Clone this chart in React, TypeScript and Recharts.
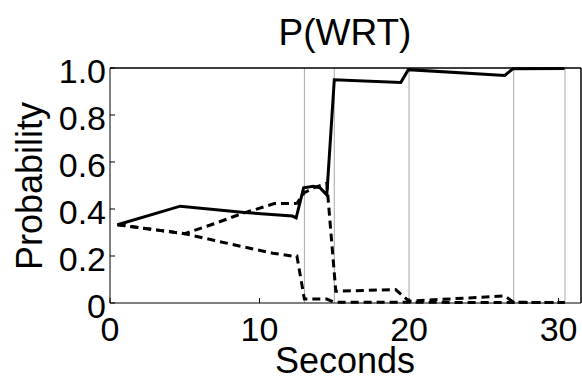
import { LineChart, Line, XAxis, YAxis, ReferenceLine } from 'recharts';

const FONT = '"Liberation Sans", Arial, Helvetica, sans-serif';

// solid line: P(WRT)
const solidT = [0.5, 4.7, 9.0, 12.2, 12.45, 12.95, 13.6, 14.05, 14.5, 15.0, 19.45, 19.95, 26.4, 26.95, 30.4];
const solidP = [0.333, 0.412, 0.385, 0.37, 0.362, 0.49, 0.497, 0.49, 0.46, 0.95, 0.938, 0.993, 0.968, 0.997, 0.998];

// dashed line that climbs to ~0.5 before collapsing
const dashAT = [0.5, 5.0, 7.0, 8.8, 11.0, 12.5, 13.0, 13.7, 14.5, 15.1, 19.1, 20.0, 26.4, 27.0, 30.4];
const dashAP = [0.333, 0.295, 0.338, 0.38, 0.423, 0.424, 0.47, 0.492, 0.51, 0.05, 0.057, 0.008, 0.03, 0.003, 0.002];

// dashed line that sinks to ~0.2 and drops at 13 s
const dashBT = [0.5, 5.0, 7.0, 9.0, 10.9, 12.2, 12.5, 13.0, 14.5, 15.0, 20.0, 27.0, 30.4];
const dashBP = [0.333, 0.295, 0.266, 0.238, 0.212, 0.199, 0.2, 0.017, 0.017, 0.003, 0.003, 0.002, 0.002];

const markers = [13, 15, 20, 27, 30.43];
const xTicks = [0, 10, 20, 30];
const yTicks = [0, 0.2, 0.4, 0.6, 0.8, 1.0];
const xMax = 31.5;

const toRows = (t: number[], p: number[]) => t.map((x, i) => ({ t: x, p: p[i] }));

const fmtY = (v: number) => (v === 0 ? '0' : v.toFixed(1));

// tick labels placed by hand so the inward tick marks don't push them around
const XTick = (props: any) => (
    <text x={props.x} y={341} textAnchor="middle" fontSize={34} fontFamily={FONT} fill="#000">
        {props.payload.value}
    </text>
);

const YTick = (props: any) => (
    <text x={106} y={props.y + 14.5} textAnchor="end" fontSize={34} fontFamily={FONT} fill="#000">
        {fmtY(props.payload.value)}
    </text>
);

export default function App() {
    return (
        <div style={{ position: 'absolute', left: 0, top: 0, width: 582, height: 377, background: '#fff' }}>
            <svg width={582} height={60} style={{ position: 'absolute', left: 0, top: 0 }}>
                <text x={345} y={44.5} textAnchor="middle" fontSize={37} fontFamily={FONT} fill="#000">
                    P(WRT)
                </text>
            </svg>
            <LineChart width={582} height={377} margin={{ top: 67, right: 0, bottom: 0, left: 0 }}>
                <XAxis
                    dataKey="t"
                    type="number"
                    domain={[0, xMax]}
                    ticks={xTicks}
                    allowDataOverflow
                    height={74}
                    stroke="#000"
                    tickSize={-5}
                    tick={XTick}
                    label={{
                        content: () => (
                            <text x={345} y={372.5} textAnchor="middle" fontSize={36} fontFamily={FONT} fill="#000">
                                Seconds
                            </text>
                        ),
                    }}
                />
                <XAxis
                    xAxisId="top"
                    orientation="top"
                    dataKey="t"
                    type="number"
                    domain={[0, xMax]}
                    ticks={xTicks}
                    allowDataOverflow
                    height={1}
                    stroke="#000"
                    tickSize={-5}
                    tick={false}
                />
                <YAxis
                    type="number"
                    domain={[0, 1]}
                    ticks={yTicks}
                    width={110}
                    stroke="#000"
                    tickSize={-5}
                    tick={YTick}
                    label={{
                        content: () => (
                            <text
                                x={41.5}
                                y={186}
                                transform="rotate(-90 41.5 186)"
                                textAnchor="middle"
                                fontSize={36}
                                fontFamily={FONT}
                                fill="#000"
                            >
                                Probability
                            </text>
                        ),
                    }}
                />
                <YAxis
                    yAxisId="right"
                    orientation="right"
                    type="number"
                    domain={[0, 1]}
                    ticks={yTicks}
                    width={1}
                    stroke="#000"
                    tickSize={-5}
                    tick={false}
                />
                {markers.map(m => (
                    <ReferenceLine key={m} x={m} stroke="#a8a8a8" strokeWidth={1} />
                ))}
                {/* box edges, in case the mirrored axes leave them out */}
                <ReferenceLine y={1} stroke="#000" strokeWidth={1} />
                <ReferenceLine x={xMax} stroke="#000" strokeWidth={1} />
                <Line
                    data={toRows(dashBT, dashBP)}
                    dataKey="p"
                    type="linear"
                    stroke="#000"
                    strokeWidth={3}
                    strokeDasharray="8 5"
                    dot={false}
                    isAnimationActive={false}
                />
                <Line
                    data={toRows(dashAT, dashAP)}
                    dataKey="p"
                    type="linear"
                    stroke="#000"
                    strokeWidth={3}
                    strokeDasharray="8 5"
                    dot={false}
                    isAnimationActive={false}
                />
                {/* solid series sits on the top/right axes so the box sides get drawn */}
                <Line
                    data={toRows(solidT, solidP)}
                    xAxisId="top"
                    yAxisId="right"
                    dataKey="p"
                    type="linear"
                    stroke="#000"
                    strokeWidth={3}
                    dot={false}
                    isAnimationActive={false}
                />
            </LineChart>
        </div>
    );
}
